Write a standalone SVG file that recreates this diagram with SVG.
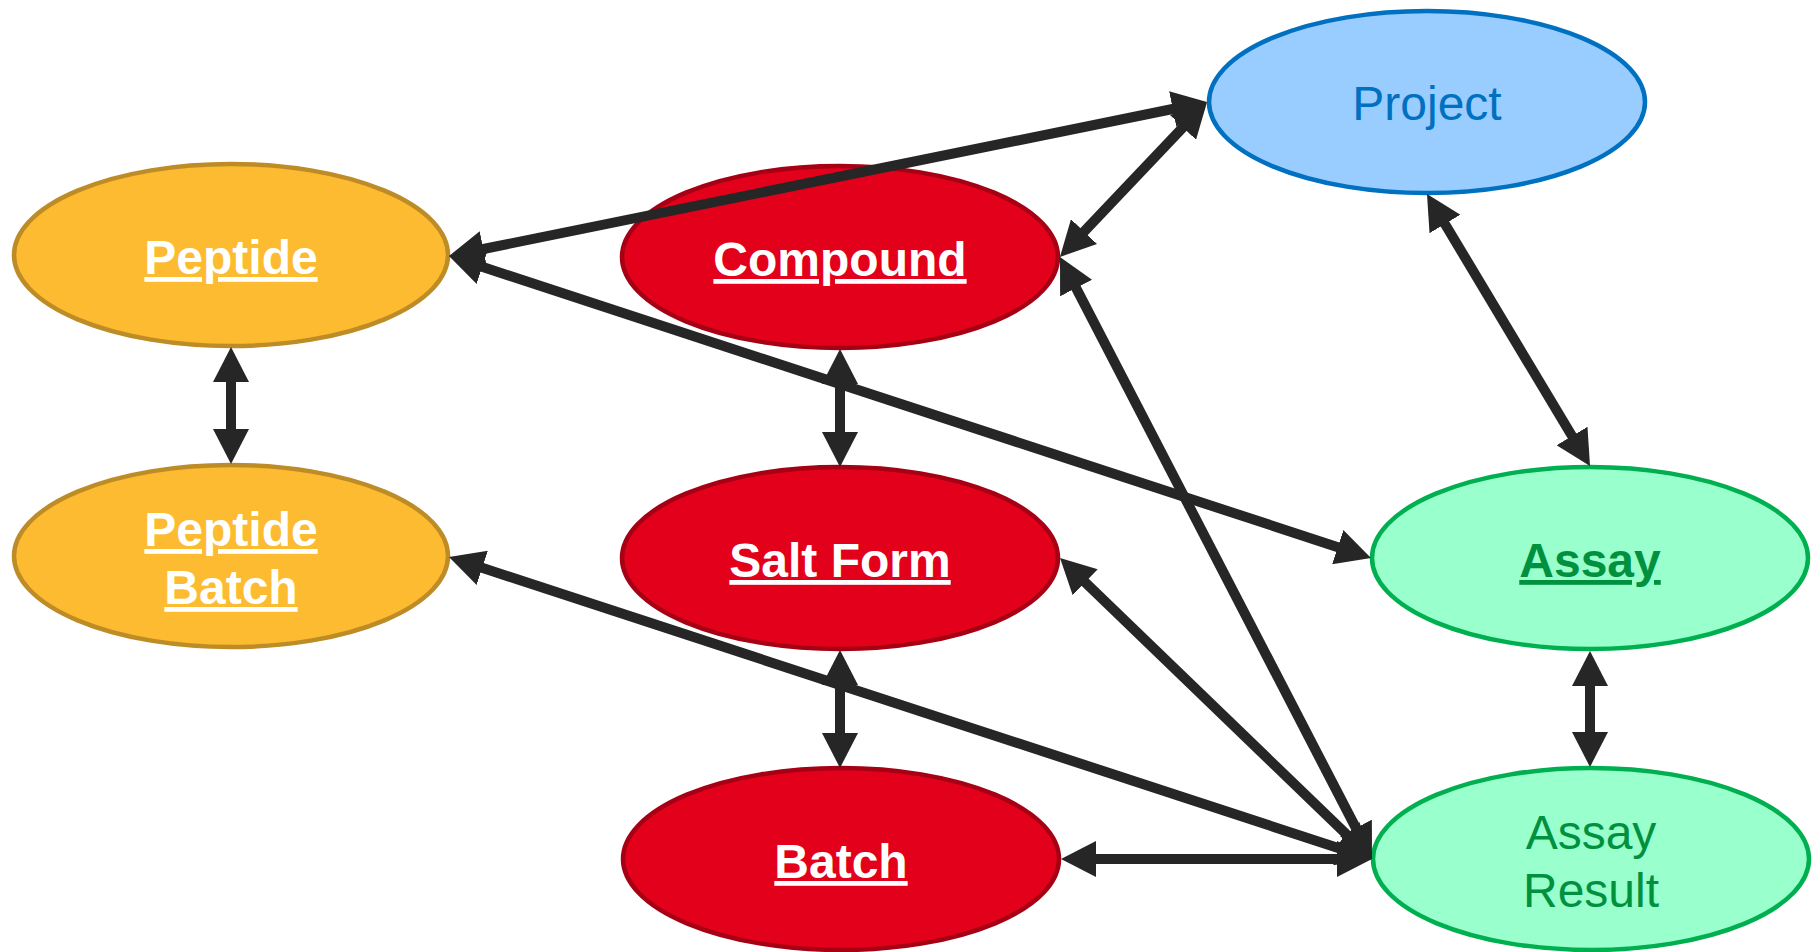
<svg xmlns="http://www.w3.org/2000/svg" width="1819" height="952" viewBox="0 0 1819 952">
<style>
.yel{fill:#FCBB30;stroke:#BE8C26;stroke-width:4.5}
.red{fill:#E3001B;stroke:#A60014;stroke-width:4.5}
.blu{fill:#99CCFF;stroke:#0070C0;stroke-width:4.5}
.grn{fill:#99FFCC;stroke:#00B050;stroke-width:4.5}
text{font-family:"Liberation Sans",Arial,sans-serif;font-size:48px;text-anchor:middle}
.bw{fill:#FFFFFF;font-weight:bold;text-decoration:underline}
.bg{fill:#00913F;font-weight:bold;text-decoration:underline}
.pb{fill:#0070C0}
.pg{fill:#00913F}
.edge{stroke:#262626;stroke-width:10;fill:none;marker-start:url(#ah);marker-end:url(#ah)}
</style>
<defs>
<marker id="ah" markerUnits="userSpaceOnUse" markerWidth="36" markerHeight="36" refX="5" refY="18" orient="auto-start-reverse" viewBox="0 0 36 36">
<path d="M0,0 L35,18 L0,36 z" fill="#262626"/>
</marker>
</defs>
<g id="node-peptide"><ellipse class="yel" cx="231" cy="255" rx="217" ry="91"/><text class="bw" x="231" y="274">Peptide</text></g>
<g id="node-peptide-batch"><ellipse class="yel" cx="231" cy="556" rx="217" ry="91"/><text class="bw" x="231" y="546">Peptide</text><text class="bw" x="231" y="604">Batch</text></g>
<g id="node-compound"><ellipse class="red" cx="840" cy="257" rx="218" ry="91"/><text class="bw" x="840" y="276">Compound</text></g>
<g id="node-salt-form"><ellipse class="red" cx="840" cy="558" rx="218" ry="91"/><text class="bw" x="840" y="577">Salt Form</text></g>
<g id="node-batch"><ellipse class="red" cx="841" cy="859" rx="218" ry="91"/><text class="bw" x="841" y="878">Batch</text></g>
<g id="node-project"><ellipse class="blu" cx="1427" cy="102" rx="218" ry="91"/><text class="pb" x="1427" y="120">Project</text></g>
<g id="node-assay"><ellipse class="grn" cx="1590" cy="558" rx="218" ry="91"/><text class="bg" x="1590" y="577">Assay</text></g>
<g id="node-assay-result"><ellipse class="grn" cx="1591" cy="859" rx="218" ry="91"/><text class="pg" x="1591" y="849">Assay</text><text class="pg" x="1591" y="907">Result</text></g>
<g id="connectors">
<line class="edge" x1="478.4" y1="250" x2="1177.6" y2="108"/>
<line class="edge" x1="477.5" y1="265.3" x2="1342.5" y2="548.7"/>
<line class="edge" x1="1080.6" y1="235.2" x2="1186.4" y2="123.8"/>
<line class="edge" x1="840" y1="379" x2="840" y2="437"/>
<line class="edge" x1="231" y1="377" x2="231" y2="434"/>
<line class="edge" x1="840" y1="680" x2="840" y2="738"/>
<line class="edge" x1="1442.4" y1="219.7" x2="1574.6" y2="440.3"/>
<line class="edge" x1="1590" y1="681" x2="1590" y2="737"/>
<line class="edge" x1="1358.2" y1="832.4" x2="1073.8" y2="283.6"/>
<line class="edge" x1="1350.4" y1="838.2" x2="1081.6" y2="578.8"/>
<line class="edge" x1="1343.5" y1="849.7" x2="477.5" y2="566.3"/>
<line class="edge" x1="1342" y1="859" x2="1091" y2="859"/>
</g>
</svg>
